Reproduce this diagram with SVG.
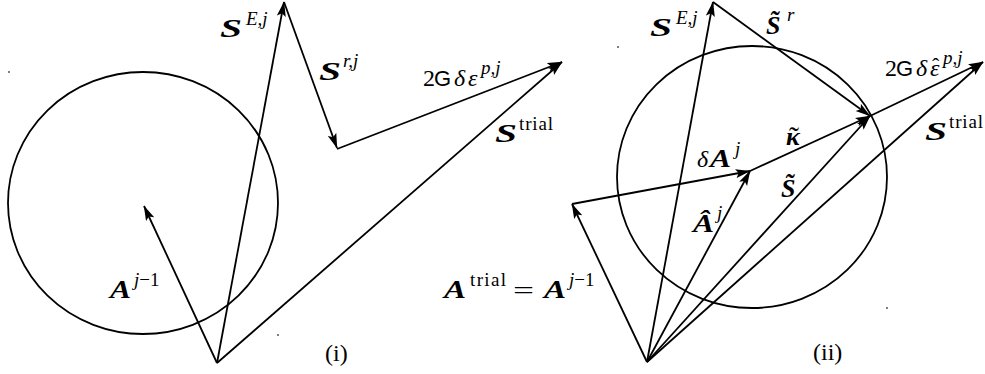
<svg xmlns="http://www.w3.org/2000/svg" width="985" height="374" viewBox="0 0 985 374">
<style>
.ln{stroke:#000;stroke-width:1.8;fill:none;marker-end:url(#ah)}
.cr{stroke:#000;stroke-width:1.8;fill:none}
.m{font-family:"Liberation Serif",serif;font-size:26px;font-weight:bold;font-style:italic;fill:#000}
.s{font-family:"Liberation Serif",serif;font-size:19px;font-style:italic;fill:#000}
.su{font-family:"Liberation Serif",serif;font-size:19px;fill:#000}
.up{font-style:normal}
.rm{font-family:"Liberation Serif",serif;font-size:24px;fill:#000}
.it{font-family:"Liberation Serif",serif;font-size:24px;font-style:italic;fill:#000}
.sf{font-family:"Liberation Sans",sans-serif;font-size:22px;fill:#000}
.acc{font-style:normal;font-weight:normal}
.dot{fill:#444}
</style>
<defs>
<marker id="ah" viewBox="0 0 15 10" markerWidth="15" markerHeight="10" refX="14.5" refY="5" orient="auto" markerUnits="userSpaceOnUse">
<path d="M0,0.5 L15,5 L0,9.5 L3,5 z" fill="#000"/>
</marker>
</defs>
<rect width="985" height="374" fill="#fff"/>

<g id="yield-surfaces">
<ellipse class="cr" cx="143" cy="203" rx="135" ry="131"/>
<ellipse class="cr" cx="752" cy="177" rx="135" ry="131"/>
<circle class="dot" cx="9" cy="72" r="0.9"/>
<circle class="dot" cx="278" cy="335" r="0.9"/>
<circle class="dot" cx="618" cy="47" r="0.9"/>
<circle class="dot" cx="887" cy="308" r="0.9"/>
</g>

<g id="connectors">
<line class="ln" x1="217" y1="363" x2="144" y2="206"/>
<line class="ln" x1="217" y1="363" x2="284" y2="2"/>
<line class="ln" x1="284" y1="2" x2="337" y2="148"/>
<line class="ln" x1="337" y1="149" x2="562" y2="62"/>
<line class="ln" x1="217" y1="363" x2="562" y2="62"/>

<line class="ln" x1="647" y1="362" x2="572" y2="204"/>
<line class="ln" x1="572" y1="204" x2="750" y2="171"/>
<line class="ln" x1="647" y1="362" x2="750" y2="171"/>
<line class="ln" x1="750" y1="171" x2="870" y2="116"/>
<line class="ln" x1="647" y1="362" x2="870" y2="116"/>
<line class="ln" x1="647" y1="362" x2="713" y2="2"/>
<line class="ln" x1="713" y1="2" x2="870" y2="116"/>
<line class="ln" x1="870" y1="116" x2="983" y2="62"/>
<line class="ln" x1="647" y1="362" x2="983" y2="62"/>
</g>

<g id="label-SEj-left"><text class="m" x="220" y="37" textLength="22" lengthAdjust="spacingAndGlyphs">S</text><text class="s" x="246" y="25">E,j</text></g>
<g id="label-Srj-left"><text class="m" x="319" y="80" textLength="22" lengthAdjust="spacingAndGlyphs">S</text><text class="s" x="343" y="67">r,j</text></g>
<g id="label-2Gde-left"><text class="rm" x="423" y="86">2</text><text class="sf" x="434" y="86">G</text><text class="it" x="454" y="86">δ</text><text class="it" x="468" y="86">ε</text><text class="s" x="481" y="74">p,j</text></g>
<g id="label-Strial-left"><text class="m" x="495" y="142" textLength="22" lengthAdjust="spacingAndGlyphs">S</text><text class="su" x="519" y="130" textLength="34">trial</text></g>
<g id="label-Aj1-left"><text class="m" x="110" y="298" textLength="21" lengthAdjust="spacingAndGlyphs">A</text><text class="s" x="134" y="286">j<tspan class="up">−1</tspan></text></g>
<g id="label-i"><text class="rm" x="325" y="361">(i)</text></g>

<g id="label-SEj-right"><text class="m" x="650" y="36" textLength="22" lengthAdjust="spacingAndGlyphs">S</text><text class="s" x="676" y="24">E,j</text></g>
<g id="label-Str-right"><text class="m" x="766" y="34">S&#x303;</text><text class="s" x="787" y="21">r</text></g>
<g id="label-2Gde-right"><text class="rm" x="885" y="76">2</text><text class="sf" x="896" y="76">G</text><text class="it" x="916" y="76">δ</text><text class="it" x="930" y="76">ε<tspan class="acc" x="932" y="73" font-size="22">ˆ</tspan></text><text class="s" x="943" y="64">p,j</text></g>
<g id="label-Strial-right"><text class="m" x="925" y="140" textLength="22" lengthAdjust="spacingAndGlyphs">S</text><text class="su" x="949" y="128" textLength="34">trial</text></g>
<g id="label-dAj"><text class="it" x="697" y="167">δ</text><text class="m" x="710" y="167" textLength="21" lengthAdjust="spacingAndGlyphs">A</text><text class="s" x="735" y="155">j</text></g>
<g id="label-kappa"><text class="m" x="786" y="145">κ<tspan class="acc" x="789" y="147" font-size="30">˜</tspan></text></g>
<g id="label-Stilde"><text class="m" x="781" y="197">S&#x303;</text></g>
<g id="label-Ahatj"><text class="m" x="693" y="232" textLength="21" lengthAdjust="spacingAndGlyphs">Â</text><text class="s" x="717" y="219">j</text></g>
<g id="label-Atrial"><text class="m" x="444" y="298" textLength="22" lengthAdjust="spacingAndGlyphs">A</text><text class="su" x="470" y="286" textLength="36">trial</text><text class="rm" x="513" y="298" textLength="21" lengthAdjust="spacingAndGlyphs">=</text><text class="m" x="544" y="298" textLength="22" lengthAdjust="spacingAndGlyphs">A</text><text class="s" x="569" y="286">j<tspan class="up">−1</tspan></text></g>
<g id="label-ii"><text class="rm" x="813" y="360">(ii)</text></g>
</svg>
